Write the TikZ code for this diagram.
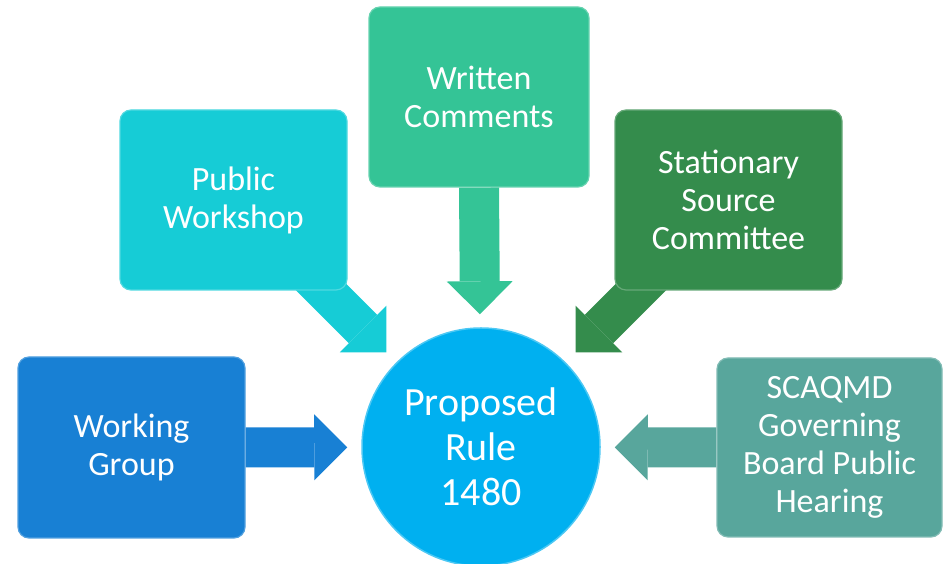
\documentclass[tikz,border=0pt]{standalone}
\usepackage{fontspec}
\setmainfont{Carlito}
\usetikzlibrary{arrows.meta,calc,backgrounds}
\definecolor{cWG}{RGB}{24,128,212}
\definecolor{cPW}{RGB}{22,204,214}
\definecolor{cWC}{RGB}{52,196,150}
\definecolor{cSS}{RGB}{52,140,76}
\definecolor{cSC}{RGB}{88,166,156}
\definecolor{cC}{RGB}{0,176,240}
\begin{document}
\begin{tikzpicture}[x=1pt,y=1pt,
  box/.style={rounded corners=11pt, fill=#1, draw=#1!75!white, line width=1.2pt,
    text=white, align=center, font=\fontsize{34}{38}\selectfont, inner sep=0pt},
  barrow/.style={line width=40pt, draw=#1,
    -{Triangle[length=33pt,width=66pt,line width=0pt]}, shorten >=14pt}
]
\useasboundingbox (0,0) rectangle (947,564);
\node[circle, fill=cC, draw=cC!70!white, line width=1.5pt, minimum size=238pt,
  text=white, align=center, font=\fontsize{40}{45}\selectfont, inner sep=0pt]
  (c) at (481,117) {Proposed\\Rule\\1480};
\node[box=cWG, minimum width=227pt, minimum height=181pt] (wg) at (131.5,116.5) {Working\\Group};
\node[box=cPW, minimum width=227pt, minimum height=180pt] (pw) at (233.5,364) {Public\\Workshop};
\node[box=cWC, minimum width=220pt, minimum height=180pt] (wc) at (479,467) {Written\\Comments};
\node[box=cSS, minimum width=227pt, minimum height=180pt] (ss) at (728.5,364) {Stationary\\Source\\Committee};
\node[box=cSC, minimum width=225pt, minimum height=179pt] (sc) at (829.5,116.5) {SCAQMD\\Governing\\Board Public\\Hearing};
\coordinate (pwst) at ($(c)+(-180,180)$);
\coordinate (ssst) at ($(c)+(180,180)$);
\begin{scope}[on background layer]
  \draw[barrow=cWG] (wg.east) -- (c);
  \draw[barrow=cPW] (pwst) -- (c);
  \draw[barrow=cWC, shorten >=13pt] (wc.south) -- (c);
  \draw[barrow=cSS] (ssst) -- (c);
  \draw[barrow=cSC] (sc.west) -- (c);
\end{scope}
\end{tikzpicture}
\end{document}
